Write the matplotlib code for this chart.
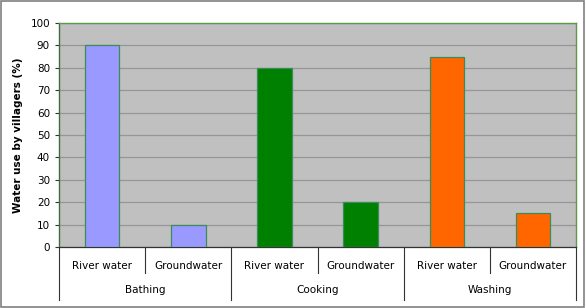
import matplotlib
matplotlib.use("Agg")
import matplotlib.pyplot as plt
import matplotlib.transforms as mtransforms
from matplotlib.patches import Rectangle

groups = ["Bathing", "Cooking", "Washing"]
sources = ["River water", "Groundwater"]
values = [90, 10, 80, 20, 85, 15]
colors = ["#9999FF", "#9999FF", "#008000", "#008000", "#FF6600", "#FF6600"]

fig = plt.figure(figsize=(5.86, 3.08), dpi=100)
fig.patches.append(Rectangle((0.002, 0.003), 0.995, 0.993, transform=fig.transFigure,
                             fill=False, edgecolor="#808080", linewidth=1.2))
ax = fig.add_axes([0.1007, 0.198, 0.8823, 0.727])
ax.set_facecolor("#C0C0C0")

x = list(range(len(values)))
ax.bar(x, values, width=0.4, color=colors, edgecolor="#3C8C5A", linewidth=0.9, zorder=3)

ax.set_xlim(-0.5, len(values) - 0.5)
ax.set_ylim(0, 100)
ax.set_yticks(range(0, 101, 10))
ax.yaxis.grid(True, color="#969696", linewidth=0.9, zorder=0)
ax.tick_params(axis="y", labelsize=7.5, length=3, width=0.8, color="#333333")
ax.set_xticks([])
for side in ["top", "right", "left"]:
    ax.spines[side].set_color("#5A9A4A")
    ax.spines[side].set_linewidth(1.0)
ax.spines["left"].set_color("#3E6E3E")
ax.spines["bottom"].set_color("#333333")
ax.spines["bottom"].set_linewidth(0.9)
ax.set_ylabel("Water use by villagers (%)", fontsize=7.5, fontweight="bold", labelpad=5)

trans = mtransforms.blended_transform_factory(ax.transData, ax.transAxes)
for i in x:
    ax.text(i, -0.085, sources[i % 2], transform=trans, ha="center", va="center", fontsize=7.5)
for g, name in enumerate(groups):
    ax.text(2 * g + 0.5, -0.19, name, transform=trans, ha="center", va="center", fontsize=7.5)
for i in range(len(values) + 1):
    xd = i - 0.5
    y_end = -0.237 if i % 2 == 0 else -0.116
    ax.plot([xd, xd], [0, y_end], transform=trans, color="#333333", linewidth=0.8, clip_on=False)

fig.savefig("out.png", dpi=100)
